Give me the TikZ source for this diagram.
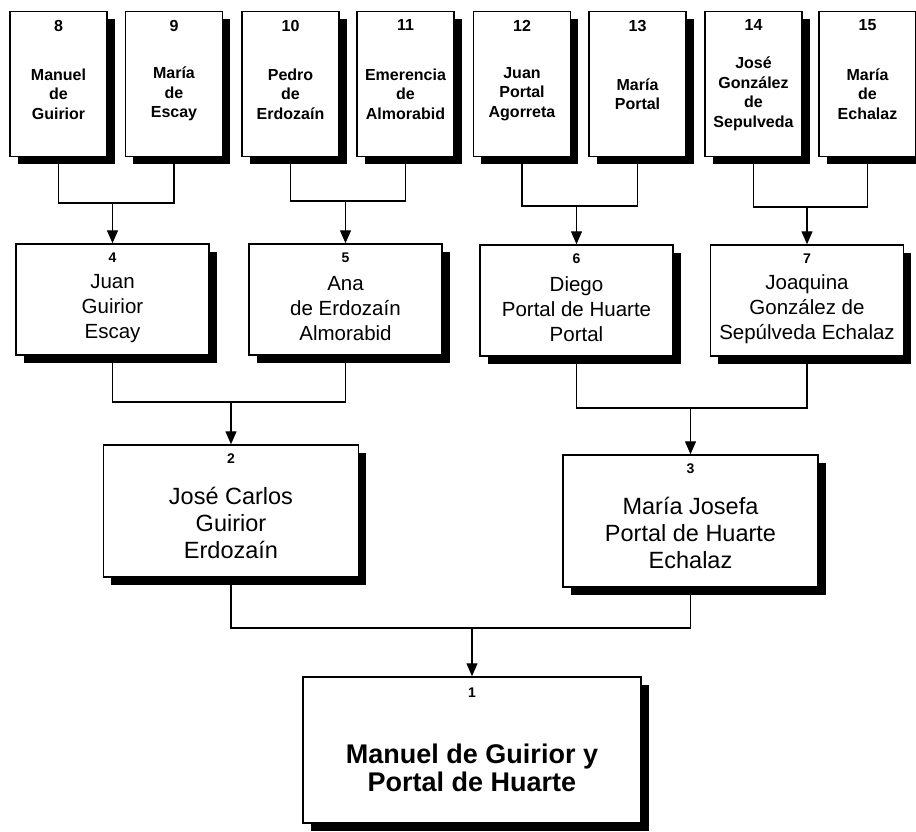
\documentclass[tikz,border=0pt]{standalone}
\usepackage{fontspec}
\setmainfont{Liberation Sans}
\usetikzlibrary{arrows.meta,positioning,shadows}

\tikzset{
	person/.style={draw, line width=1.5pt, fill=white, inner sep=0pt,
		drop shadow={shadow xshift=7.5pt, shadow yshift=-7.5pt, fill=black, opacity=1}},
	gen4/.style={person, minimum width=97pt, minimum height=145pt},
	gen3/.style={person, minimum width=193pt, minimum height=111pt},
	gen2/.style={person, minimum width=255pt, minimum height=132pt},
	gen1/.style={person, minimum width=338pt, minimum height=146pt},
	every label/.style={align=center, inner sep=0pt},
	num/.style={anchor=north, font=\bfseries\fontsize{16}{16}\selectfont, yshift=-9pt},
	numsm/.style={anchor=north, font=\bfseries\fontsize{14}{14}\selectfont, yshift=-9pt},
	nm4/.style={yshift=-10pt, font=\bfseries\fontsize{16}{19.5}\selectfont},
	nm3/.style={yshift=-9pt, font=\fontsize{20.5}{25}\selectfont},
	nm2/.style={yshift=-12pt, font=\fontsize{23.5}{27}\selectfont},
	nm1/.style={yshift=-18pt, font=\bfseries\fontsize{27}{28}\selectfont},
}

\begin{document}
\begin{tikzpicture}[x=1pt, y=-1pt]
\useasboundingbox (0,0) rectangle (916,832);

% great-grandparents
\node[gen4, label={[num]north:8}, label={[nm4]center:Manuel\\de\\Guirior}] (p8) at (58.5,84) {};
\node[gen4, label={[num]north:9}, label={[nm4]center:María\\de\\Escay}] (p9) at (174,84) {};
\node[gen4, label={[num]north:10}, label={[nm4]center:Pedro\\de\\Erdozaín}] (p10) at (290.5,84) {};
\node[gen4, label={[num]north:11}, label={[nm4]center:Emerencia\\de\\Almorabid}] (p11) at (405.5,84) {};
\node[gen4, label={[num]north:12}, label={[nm4]center:Juan\\Portal\\Agorreta}] (p12) at (522,84) {};
\node[gen4, label={[num]north:13}, label={[nm4]center:María\\Portal}] (p13) at (637.5,84) {};
\node[gen4, label={[num]north:14}, label={[nm4]center:José\\González\\de\\Sepulveda}] (p14) at (753.5,84) {};
\node[gen4, label={[num]north:15}, label={[nm4]center:María\\de\\Echalaz}] (p15) at (867.5,84) {};

% grandparents
\node[gen3, label={[numsm]north:4}, label={[nm3]center:Juan\\Guirior\\Escay}] (p4) at (112.5,299.5) {};
\node[gen3, label={[numsm]north:5}, label={[nm3]center:Ana\\de Erdozaín\\Almorabid}] (p5) at (345.5,299.5) {};
\node[gen3, label={[numsm]north:6}, label={[nm3]center:Diego\\Portal de Huarte\\Portal}] (p6) at (576.5,300.5) {};
\node[gen3, label={[numsm]north:7}, label={[nm3]center:Joaquina\\González de\\Sepúlveda Echalaz}] (p7) at (807,300.5) {};

% parents
\node[gen2, label={[numsm]north:2}, label={[nm2]center:José Carlos\\Guirior\\Erdozaín}] (p2) at (231,511) {};
\node[gen2, label={[numsm]north:3}, label={[nm2]center:María Josefa\\Portal de Huarte\\Echalaz}] (p3) at (690.5,521) {};

% subject
\node[gen1, label={[numsm, yshift=-2pt]north:1}, label={[nm1]center:Manuel de Guirior y\\Portal de Huarte}] (p1) at (472,750) {};

\coordinate (j4) at (p4.north |- 0,203);
\coordinate (j5) at (p5.north |- 0,201);
\coordinate (j6) at (p6.north |- 0,206);
\coordinate (j7) at (p7.north |- 0,207);
\coordinate (j2) at (p2.north |- 0,402);
\coordinate (j3) at (p3.north |- 0,408);
\coordinate (j1) at (p1.north |- 0,628);

\begin{scope}[line width=1.4pt]
\draw (p8) |- (j4) -| (p9);
\draw (p10) |- (j5) -| (p11);
\draw (p12) |- (j6) -| (p13);
\draw (p14) |- (j7) -| (p15);
\draw (p4) |- (j2) -| (p5);
\draw (p6) |- (j3) -| (p7);
\draw (p2) |- (j1) -| (p3);
\end{scope}
\begin{scope}[-{Triangle[length=13pt,width=11pt]}, line width=1.4pt]
\draw (j4) -- (p4);
\draw (j5) -- (p5);
\draw (j6) -- (p6);
\draw (j7) -- (p7);
\draw (j2) -- (p2);
\draw (j3) -- (p3);
\draw (j1) -- (p1);
\end{scope}
\end{tikzpicture}
\end{document}
